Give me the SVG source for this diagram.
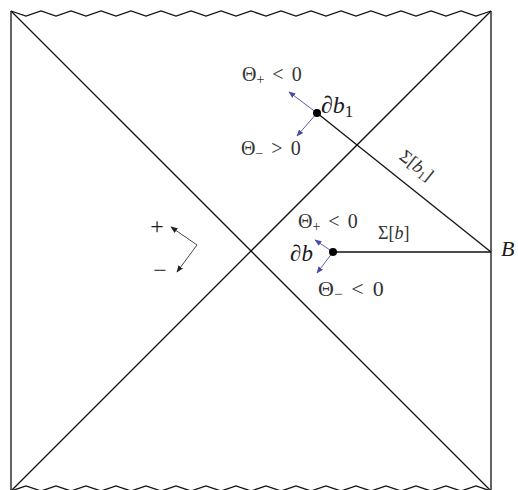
<svg xmlns="http://www.w3.org/2000/svg" width="518" height="490" viewBox="0 0 518 490">
<defs>
<style>
.ln{fill:none;stroke:#111;stroke-width:1.3}
.th{fill:none;stroke:#4a4aa6;stroke-width:0.9}
.pm{fill:none;stroke:#333;stroke-width:0.9}
.t{font-family:"Liberation Serif","Times New Roman",serif;fill:#1a1a1a}
.g{fill:#333}
.i{font-style:italic}
</style>
<marker id="ab" viewBox="0 0 10 10" refX="9" refY="5" markerWidth="7" markerHeight="7" markerUnits="userSpaceOnUse" orient="auto"><path d="M0,1 L10,5 L0,9 Z" fill="#4a4aa6"/></marker>
<marker id="ak" viewBox="0 0 10 10" refX="9" refY="5" markerWidth="7" markerHeight="7" markerUnits="userSpaceOnUse" orient="auto"><path d="M0,1 L10,5 L0,9 Z" fill="#222"/></marker>
</defs>
<rect width="518" height="490" fill="#fff"/>
<g id="connectors">
<polyline class="ln" points="11,11 26,16 41,11 56,16 71,11 86,16 101,11 116,16 131,11 146,16 161,11 176,16 191,11 206,16 221,11 236,16 251,11 266,16 281,11 296,16 311,11 326,16 341,11 356,16 371,11 386,16 401,11 416,16 431,11 446,16 461,11 476,16 491,11"/>
<polyline class="ln" points="11,491 26,486 41,491 56,486 71,491 86,486 101,491 116,486 131,491 146,486 161,491 176,486 191,491 206,486 221,491 236,486 251,491 266,486 281,491 296,486 311,491 326,486 341,491 356,486 371,491 386,486 401,491 416,486 431,491 446,486 461,491 476,486 491,491"/>
<line class="ln" x1="11" y1="11" x2="11" y2="491"/>
<line class="ln" x1="491" y1="11" x2="491" y2="491"/>
<line class="ln" x1="11" y1="11" x2="491" y2="491"/>
<line class="ln" x1="491" y1="11" x2="11" y2="491"/>
<line class="ln" x1="317" y1="113" x2="491" y2="252"/>
<line class="ln" x1="333" y1="252" x2="491" y2="252"/>
<line class="th" x1="317" y1="113" x2="289" y2="92" marker-end="url(#ab)"/>
<line class="th" x1="317" y1="113" x2="297" y2="136" marker-end="url(#ab)"/>
<line class="th" x1="333" y1="252" x2="315" y2="240" marker-end="url(#ab)"/>
<line class="th" x1="333" y1="252" x2="317" y2="273" marker-end="url(#ab)"/>
<line class="pm" x1="197" y1="245" x2="171" y2="227" marker-end="url(#ak)"/>
<line class="pm" x1="197" y1="245" x2="177" y2="272" marker-end="url(#ak)"/>
</g>
<g id="node-db1">
<circle cx="317" cy="113" r="4" fill="#000"/>
<text class="t" x="321" y="113" font-size="24">∂<tspan class="i">b</tspan><tspan font-size="17" dy="4">1</tspan></text>
<text class="t g" x="242" y="81" font-size="20">Θ<tspan font-size="14" dy="3">+</tspan><tspan dy="-3" dx="8">&lt;</tspan><tspan dx="8">0</tspan></text>
<text class="t g" x="241" y="155" font-size="20">Θ<tspan font-size="14" dy="3">−</tspan><tspan dy="-3" dx="8">&gt;</tspan><tspan dx="8">0</tspan></text>
</g>
<g id="node-db">
<circle cx="333" cy="252" r="4" fill="#000"/>
<text class="t" x="290" y="261" font-size="23">∂<tspan class="i">b</tspan></text>
<text class="t g" x="298" y="228" font-size="20">Θ<tspan font-size="14" dy="3">+</tspan><tspan dy="-3" dx="8">&lt;</tspan><tspan dx="8">0</tspan></text>
<text class="t g" x="318" y="296" font-size="22">Θ<tspan font-size="15" dy="3">−</tspan><tspan dy="-3" dx="9">&lt;</tspan><tspan dx="9">0</tspan></text>
</g>
<g id="node-B">
<text class="t i" x="501" y="256" font-size="22">B</text>
</g>
<g id="labels">
<text class="t g" x="378" y="239" font-size="18">Σ[<tspan class="i">b</tspan>]</text>
<text class="t g" x="0" y="0" font-size="18" text-anchor="middle" transform="translate(413,170) rotate(38.5)">Σ[<tspan class="i">b</tspan><tspan font-size="12" dy="3">1</tspan><tspan dy="-3">]</tspan></text>
<text class="t" x="157" y="234" font-size="24" text-anchor="middle">+</text>
<text class="t" x="160" y="278" font-size="24" text-anchor="middle" fill="#666">−</text>
</g>
</svg>
